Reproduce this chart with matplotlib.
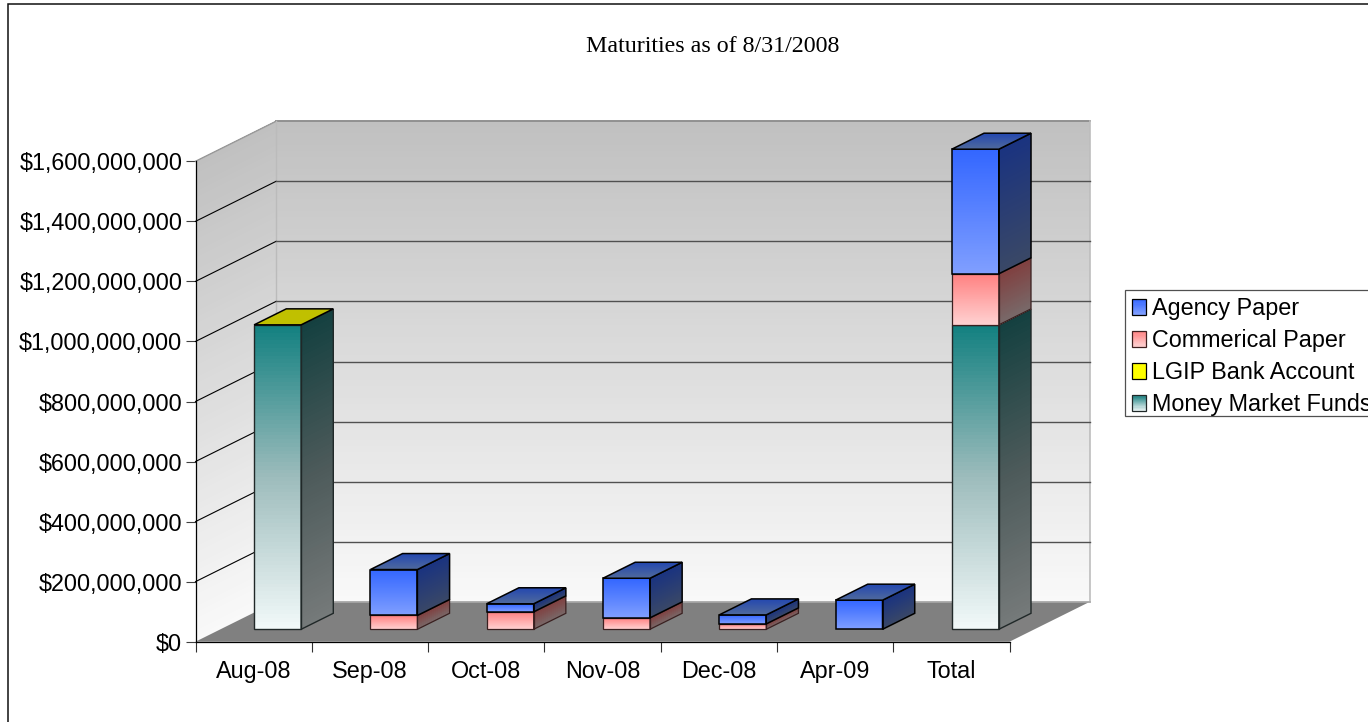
import numpy as np
import matplotlib
matplotlib.use("Agg")
import matplotlib.pyplot as plt
from matplotlib.legend_handler import HandlerBase
from matplotlib.lines import Line2D
from matplotlib.patches import Patch, Polygon, Rectangle
from matplotlib.ticker import FuncFormatter

TITLE = "Maturities as of 8/31/2008"
categories = ["Aug-08", "Sep-08", "Oct-08", "Nov-08", "Dec-08", "Apr-09", "Total"]
series_names = ["Agency Paper", "Commerical Paper", "LGIP Bank Account", "Money Market Funds"]
money_market = [1013e6, 0, 0, 0, 0, 0, 1013e6]
lgip = [1e6, 0, 0, 0, 0, 0, 1e6]
commercial = [0, 46e6, 58e6, 38e6, 18e6, 0, 170e6]
agency = [0, 153e6, 27e6, 132e6, 30e6, 97e6, 415e6]
y_ticks = [0, 200e6, 400e6, 600e6, 800e6, 1000e6, 1200e6, 1400e6, 1600e6]

W, H = 1368, 722
plt.rcParams["font.family"] = ["Liberation Sans", "DejaVu Sans"]
fig = plt.figure(figsize=(W / 100, H / 100), dpi=100, facecolor="white")
L, R, T, B = 195.5, 1009.5, 161.3, 641.7
ax = fig.add_axes([L / W, 1 - B / H, (R - L) / W, (B - T) / H])
n = len(categories)
ax.set_xlim(0, n)
ax.set_ylim(0, y_ticks[-1])

# Oblique projection: depth d in 0..1 moves a point back-right on screen
px_x = n / (R - L)
px_y = y_ticks[-1] / (B - T)
DX, DY = 80.5 * px_x, 40.0 * px_y


def proj(x, y, d):
    return x + d * DX, y + d * DY


def hexrgb(c):
    return np.array(matplotlib.colors.to_rgb(c))


def ramp(f, top, bottom, mid=None):
    """Colours for f in 0..1 (0 = bottom, 1 = top), optionally through a middle stop."""
    stops = [hexrgb(bottom)] + ([hexrgb(mid)] if mid else []) + [hexrgb(top)]
    pos = np.linspace(0, 1, len(stops))
    return np.column_stack([np.interp(f, pos, [s[c] for s in stops]) for c in range(3)])


def grad_face(p00, p10, p01, p11, top, bottom, z, N=80, mid=None):
    """Mesh between edges; 'top' colour on the p01-p11 side."""
    t = np.linspace(0, 1, N + 1)[:, None]
    xa = np.array(p00)[None, :] * (1 - t) + np.array(p01)[None, :] * t
    xb = np.array(p10)[None, :] * (1 - t) + np.array(p11)[None, :] * t
    X = np.column_stack([xa[:, 0], xb[:, 0]])
    Y = np.column_stack([xa[:, 1], xb[:, 1]])
    C = ramp((t[:-1, 0] + t[1:, 0]) / 2, top, bottom, mid)
    return ax.pcolormesh(X, Y, C[:, None, :], shading="flat", zorder=z, clip_on=False,
                         antialiased=False)


def outline(points, color, lw, z, fill="none"):
    ax.add_patch(Polygon(points, closed=True, fc=fill, ec=color, lw=lw, zorder=z,
                         clip_on=False, joinstyle="miter"))


# Walls and floor
ytop = y_ticks[-1]
grad_face(proj(0, 0, 1), proj(n, 0, 1), proj(0, ytop, 1), proj(n, ytop, 1), "#c0c0c0", "#f9f9f9", 1)
grad_face(proj(0, 0, 0), proj(0, 0, 1), proj(0, ytop, 0), proj(0, ytop, 1), "#c0c0c0", "#f9f9f9", 1)
outline([proj(0, 0, 0), proj(n, 0, 0), proj(n, 0, 1), proj(0, 0, 1)], "none", 0, 2, fill="#808080")

# Wall edges
edge_kw = dict(clip_on=False, zorder=2.5)
for a, b, c, lw in [
    (proj(0, ytop, 0), proj(0, ytop, 1), "#999999", 1.0),
    (proj(0, ytop, 1), proj(n, ytop, 1), "#909090", 1.4),
    (proj(n, ytop, 1), proj(n, 0, 1), "#bdbdbd", 1.2),
    (proj(0, 0, 1), proj(0, ytop, 1), "#bbbbbb", 1.0),
    (proj(0, 0, 1), proj(n, 0, 1), "#a8a8a8", 1.2),
]:
    ax.plot([a[0], b[0]], [a[1], b[1]], color=c, lw=lw, **edge_kw)

# Gridlines
for v in y_ticks[1:-1]:
    a, b, c = proj(0, v, 0), proj(0, v, 1), proj(n, v, 1)
    ax.plot([a[0], b[0]], [a[1], b[1]], color="black", lw=0.8, **edge_kw)
    ax.plot([b[0], c[0]], [b[1], c[1]], color="#505050", lw=1.0, **edge_kw)

# Face colours: front top/bottom/mid, side top/bottom/mid, top back/front, edge, width
STYLE = {
    "agency": ("#3366ff", "#809fff", None, "#1a3380", "#3a4866", None, "#2347b0", "#506a9c", "black", 1.1),
    "commercial": ("#ff8080", "#ffd2d2", None, "#804040", "#786a6a", None, "#804040", "#804040", "#3a2020", 0.9),
    "lgip": ("#ffff00", "#ffff00", None, "#808000", "#808000", None, "#c0c000", "#c0c000", "black", 1.1),
    "mm": ("#128080", "#f2f9f9", "#9dbcbc", "#144040", "#767a7a", "#4c5a5a", "#1a6060", "#1a6060", "#202828", 1.0),
}
BAR_W = 47 * px_x
D0, D1 = 12.4 / 40, 28.4 / 40
stack = [("mm", money_market), ("lgip", lgip), ("commercial", commercial), ("agency", agency)]

for i in range(n):
    x0 = i + 0.5 - BAR_W / 2 - 1.0 * px_x
    x1 = x0 + BAR_W
    base = 0.0
    parts = [(k, vals[i]) for k, vals in stack if vals[i] > 0]
    for j, (k, v) in enumerate(parts):
        top = base + v
        z = 10 + i + j * 0.1
        ft, fb, fm, st, sb, sm, tb, tf, ec, lw = STYLE[k]
        if k != "lgip":
            grad_face(proj(x0, base, D0), proj(x1, base, D0), proj(x0, top, D0), proj(x1, top, D0), ft, fb, z, mid=fm)
            grad_face(proj(x1, base, D0), proj(x1, base, D1), proj(x1, top, D0), proj(x1, top, D1), st, sb, z, mid=sm)
            outline([proj(x0, base, D0), proj(x1, base, D0), proj(x1, top, D0), proj(x0, top, D0)], ec, lw, z + 0.01)
            outline([proj(x1, base, D0), proj(x1, base, D1), proj(x1, top, D1), proj(x1, top, D0)], ec, lw, z + 0.01)
        if j == len(parts) - 1:
            grad_face(proj(x0, top, D0), proj(x1, top, D0), proj(x0, top, D1), proj(x1, top, D1), tb, tf, z + 0.02)
            outline([proj(x0, top, D0), proj(x1, top, D0), proj(x1, top, D1), proj(x0, top, D1)], ec, lw, z + 0.03)
        base = top

# Axes furniture
for s in ("top", "right"):
    ax.spines[s].set_visible(False)
for s in ("left", "bottom"):
    ax.spines[s].set_linewidth(0.9)
    ax.spines[s].set_zorder(3)
ax.set_xticks(range(n + 1))
ax.set_xticklabels([])
ax.set_xticks([i + 0.5 for i in range(n)], categories, minor=True, fontsize=16.8)
ax.tick_params(axis="x", which="major", length=7, width=0.8, color="#303030")
ax.tick_params(axis="x", which="minor", length=0, pad=13.2)
ax.set_yticks(y_ticks)
ax.yaxis.set_major_formatter(FuncFormatter(lambda v, _: f"${v:,.0f}"))
ax.tick_params(axis="y", length=7, width=0.8, color="#404040", labelsize=16.8, pad=2.5)
ax.patch.set_visible(False)

# Title and outer frame (only top and left edges fall inside the picture)
fig.text(712.5 / W, 1 - 47 / H, TITLE, family=["Liberation Serif"], fontsize=17.3,
         ha="center", va="center")
fig.add_artist(Line2D([8 / W, 8 / W, 1], [0, 1 - 4 / H, 1 - 4 / H], transform=fig.transFigure,
                      color="#101010", lw=1.1, solid_joinstyle="miter"))


# Legend with gradient swatches
class GradHandler(HandlerBase):
    def __init__(self, top, bottom, edge):
        super().__init__()
        self.top, self.bottom, self.edge = top, bottom, edge

    def create_artists(self, legend, orig, xd, yd, width, height, fontsize, trans):
        K = 14
        cols = ramp((np.arange(K) + 0.5) / K, self.top, self.bottom)
        out = [Rectangle((-xd, -yd + height * q / K), width, height / K + 0.2,
                         fc=cols[q], ec="none", transform=trans) for q in range(K)]
        out.append(Rectangle((-xd, -yd), width, height, fc="none", ec=self.edge, lw=0.9, transform=trans))
        return out


fig.add_artist(Rectangle((1124.5 / W, 1 - 416 / H), 300 / W, 126 / H, transform=fig.transFigure,
                         fc="white", ec="#505050", lw=0.9, zorder=1))
handles = [Patch(label=nm) for nm in series_names]
hmap = {
    handles[0]: GradHandler("#3366ff", "#809fff", "black"),
    handles[1]: GradHandler("#ff8080", "#ffd2d2", "#402020"),
    handles[2]: GradHandler("#ffff00", "#ffff00", "black"),
    handles[3]: GradHandler("#1a8080", "#f0f8f8", "#202828"),
}
fig.legend(handles=handles, handler_map=hmap, loc="upper left",
           bbox_to_anchor=(1124.5 / W, 1 - 290 / H), bbox_transform=fig.transFigure,
           fontsize=16.8, frameon=False, borderaxespad=0, borderpad=0.3, labelspacing=0.39,
           handlelength=0.64, handleheight=0.64, handletextpad=0.22)

fig.savefig("out.png", dpi=100)
